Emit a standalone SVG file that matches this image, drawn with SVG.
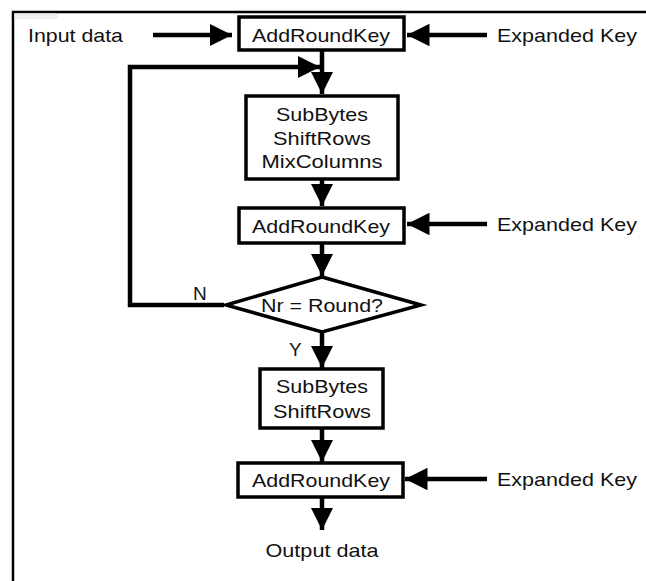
<svg xmlns="http://www.w3.org/2000/svg" width="646" height="581" viewBox="0 0 646 581">
<defs>
<style>
.box{fill:#fff;stroke:#000;stroke-width:3.5}
.t{font-family:"Liberation Sans",Arial,sans-serif;font-size:19px;fill:#111;text-anchor:middle}
.l{font-family:"Liberation Sans",Arial,sans-serif;font-size:19px;fill:#111}
.c{fill:none;stroke:#000;stroke-width:4.5}
</style>
<marker id="ah" viewBox="0 0 10 10" refX="10" refY="5" markerWidth="5" markerHeight="5" markerUnits="strokeWidth" orient="auto">
<path d="M0,0 L10,5 L0,10 z" fill="#000"/>
</marker>
</defs>
<rect width="646" height="581" fill="#fff"/>
<path d="M13,581 V12 H646" fill="none" stroke="#000" stroke-width="2.5"/>
<path d="M14.5,13.5 H55 Q58,13.5 58,17 V19 H14.5 z" fill="#eee"/>
<g id="connectors">
<line class="c" x1="153" y1="35" x2="232" y2="35" marker-end="url(#ah)"/>
<line class="c" x1="487" y1="35" x2="407" y2="35" marker-end="url(#ah)"/>
<line class="c" x1="322" y1="50" x2="322" y2="94" marker-end="url(#ah)"/>
<polyline class="c" points="224,305 130,305 130,67 320,67" marker-end="url(#ah)"/>
<line class="c" x1="322" y1="179" x2="322" y2="206" marker-end="url(#ah)"/>
<line class="c" x1="487" y1="224" x2="407" y2="224" marker-end="url(#ah)"/>
<line class="c" x1="322" y1="243" x2="322" y2="276" marker-end="url(#ah)"/>
<line class="c" x1="322" y1="332" x2="322" y2="368" marker-end="url(#ah)"/>
<line class="c" x1="322" y1="428" x2="322" y2="462" marker-end="url(#ah)"/>
<line class="c" x1="487" y1="479" x2="405" y2="479" marker-end="url(#ah)"/>
<line class="c" x1="322" y1="497" x2="322" y2="530" marker-end="url(#ah)"/>
</g>
<g id="input"><text class="l" x="28" y="42" textLength="95" lengthAdjust="spacingAndGlyphs">Input data</text></g>
<g id="ek1"><text class="l" x="497" y="42" textLength="140" lengthAdjust="spacingAndGlyphs">Expanded Key</text></g>
<g id="ark1"><rect class="box" x="239" y="17" width="165" height="33"/><text class="t" x="321" y="42" textLength="138" lengthAdjust="spacingAndGlyphs">AddRoundKey</text></g>
<g id="round"><rect class="box" x="246" y="96" width="152" height="83"/>
<text class="t" x="322" y="121" textLength="92" lengthAdjust="spacingAndGlyphs">SubBytes</text><text class="t" x="322" y="145" textLength="98" lengthAdjust="spacingAndGlyphs">ShiftRows</text><text class="t" x="322" y="168" textLength="121" lengthAdjust="spacingAndGlyphs">MixColumns</text></g>
<g id="ark2"><rect class="box" x="239" y="208" width="165" height="35"/><text class="t" x="321" y="233" textLength="138" lengthAdjust="spacingAndGlyphs">AddRoundKey</text></g>
<g id="ek2"><text class="l" x="497" y="231" textLength="140" lengthAdjust="spacingAndGlyphs">Expanded Key</text></g>
<g id="decision"><polygon points="322,277 421,305 322,332 226,305" fill="#fff" stroke="#000" stroke-width="3.5"/>
<text class="t" x="322" y="312" textLength="122" lengthAdjust="spacingAndGlyphs">Nr = Round?</text></g>
<g id="lblN"><text class="l" x="193" y="300">N</text></g>
<g id="lblY"><text class="l" x="289" y="356">Y</text></g>
<g id="final"><rect class="box" x="260" y="369" width="123" height="59"/>
<text class="t" x="322" y="393" textLength="92" lengthAdjust="spacingAndGlyphs">SubBytes</text><text class="t" x="322" y="418" textLength="98" lengthAdjust="spacingAndGlyphs">ShiftRows</text></g>
<g id="ark3"><rect class="box" x="238" y="463" width="165" height="34"/><text class="t" x="321" y="487" textLength="138" lengthAdjust="spacingAndGlyphs">AddRoundKey</text></g>
<g id="ek3"><text class="l" x="497" y="486" textLength="140" lengthAdjust="spacingAndGlyphs">Expanded Key</text></g>
<g id="output"><text class="t" x="322" y="557" textLength="113" lengthAdjust="spacingAndGlyphs">Output data</text></g>
</svg>
